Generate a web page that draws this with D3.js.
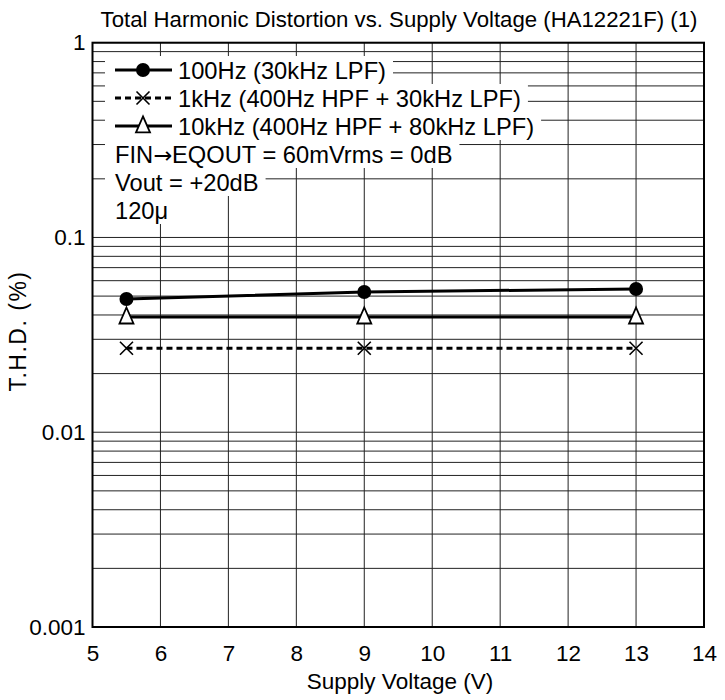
<!DOCTYPE html>
<html>
<head>
<meta charset="utf-8">
<script src="https://cdn.jsdelivr.net/npm/d3@7"></script>
<style>
  body { margin: 0; background: #fff; }
  svg text { font-family: "Liberation Sans", Arial, sans-serif; fill: #000; }
</style>
</head>
<body>
<svg id="chart" width="725" height="700"></svg>
<script>
// ---- data ----
const voltages = [5.5, 9, 13];
const thd100Hz = [0.0483, 0.0525, 0.0544];
const thd1kHz = [0.027, 0.027, 0.027];
const thd10kHz = [0.039, 0.039, 0.039];
const seriesNames = ["100Hz (30kHz LPF)", "1kHz (400Hz HPF + 30kHz LPF)", "10kHz (400Hz HPF + 80kHz LPF)"];
const noteLines = [["FIN", "\u2192", "EQOUT = 60mVrms = 0dB"], ["Vout = +20dB"], ["120\u03bc"]];
const xTicks = [5, 6, 7, 8, 9, 10, 11, 12, 13, 14];
const yTicks = [0.001, 0.01, 0.1, 1];
const yTickLabels = ["0.001", "0.01", "0.1", "1"];
const titleText = "Total Harmonic Distortion vs. Supply Voltage (HA12221F) (1)";
const xTitle = "Supply Voltage  (V)";
const yTitle = "T.H.D.   (%)";

// ---- layout ----
const L = 92.5, R = 704, T = 42.7, B = 627;
const svg = d3.select("#chart");
const x = d3.scaleLinear().domain([5, 14]).range([L, R]);
const y = d3.scaleLog().domain([0.001, 1]).range([B, T]);

// grid
const minor = [];
[0.001, 0.01, 0.1].forEach(d => { for (let k = 1; k <= 9; k++) minor.push(d * k); });
minor.push(1);
svg.append("g").selectAll("line").data(minor).join("line")
  .attr("x1", L).attr("x2", R)
  .attr("y1", d => y(d)).attr("y2", d => y(d))
  .attr("stroke", "#222").attr("stroke-width", 1);
svg.append("g").selectAll("line").data(xTicks).join("line")
  .attr("x1", d => x(d)).attr("x2", d => x(d))
  .attr("y1", T).attr("y2", B)
  .attr("stroke", "#222").attr("stroke-width", 1);

// data series
const series = [
  { name: seriesNames[0], vals: thd100Hz, dash: null, marker: "circle" },
  { name: seriesNames[1], vals: thd1kHz, dash: "6,4", marker: "x" },
  { name: seriesNames[2], vals: thd10kHz, dash: null, marker: "tri" }
];

function drawMarker(g, type, cx, cy) {
  if (type === "circle") {
    g.append("circle").attr("cx", cx).attr("cy", cy).attr("r", 7).attr("fill", "#000");
  } else if (type === "x") {
    const s = 6.5;
    g.append("path").attr("d", `M${cx - s},${cy - s}L${cx + s},${cy + s}M${cx - s},${cy + s}L${cx + s},${cy - s}`)
      .attr("stroke", "#000").attr("stroke-width", 1.6).attr("fill", "none");
  } else {
    const h = 16, w = 14;
    g.append("path").attr("d", `M${cx},${cy - h * 0.6}L${cx + w / 2},${cy + h * 0.4}L${cx - w / 2},${cy + h * 0.4}Z`)
      .attr("stroke", "#000").attr("stroke-width", 1.8).attr("fill", "#fff");
  }
}

const line = d3.line().x(d => x(d[0])).y(d => y(d[1]));
const dataG = svg.append("g");
series.forEach(s => {
  const pts = voltages.map((v, i) => [v, s.vals[i]]);
  dataG.append("path").attr("d", line(pts)).attr("fill", "none")
    .attr("stroke", "#000").attr("stroke-width", 3)
    .attr("stroke-dasharray", s.dash);
});
series.forEach(s => {
  voltages.forEach((v, i) => drawMarker(dataG, s.marker, x(v), y(s.vals[i])));
});

// legend
const rowH = 28, row0 = 70, boxX = 105, textX = 178, fs = 23.7;
const legG = svg.append("g");
const rows = seriesNames.map(d => [d]).concat(noteLines);
rows.forEach((parts, i) => {
  const cy = row0 + i * rowH;
  const isNote = i >= seriesNames.length;
  const tx = isNote ? 115 : textX;
  const rect = legG.append("rect").attr("fill", "#fff");
  const t = legG.append("text").attr("x", tx).attr("y", cy).attr("dy", "0.36em")
    .attr("font-size", fs);
  parts.forEach(p => {
    const sp = t.append("tspan").text(p);
    if (p === "\u2192") sp.attr("font-family", "DejaVu Sans").attr("font-size", fs * 0.95);
  });
  const w = t.node().getComputedTextLength();
  rect.attr("x", boxX).attr("y", cy - rowH / 2).attr("width", tx + w + 7 - boxX).attr("height", rowH);
  if (!isNote) {
    const s = series[i];
    legG.append("line").attr("x1", 115).attr("x2", 172).attr("y1", cy).attr("y2", cy)
      .attr("stroke", "#000").attr("stroke-width", 3).attr("stroke-dasharray", s.dash);
    drawMarker(legG, s.marker, 143, cy);
  }
});
legG.raise();

// frame
svg.append("rect").attr("x", L).attr("y", T).attr("width", R - L).attr("height", B - T)
  .attr("fill", "none").attr("stroke", "#000").attr("stroke-width", 2);

// axes
const xAxis = d3.axisBottom(x).tickValues(xTicks).tickSize(0).tickPadding(18).tickFormat(d3.format("d"));
const xg = svg.append("g").attr("transform", `translate(0,${B})`).call(xAxis);
xg.select(".domain").remove();
xg.selectAll("text").attr("font-size", 22.5).attr("font-family", "Liberation Sans, Arial, sans-serif");

const yAxis = d3.axisLeft(y).tickValues(yTicks).tickSize(0).tickPadding(7)
  .tickFormat((d, i) => yTickLabels[i]);
const yg = svg.append("g").attr("transform", `translate(${L},0)`).call(yAxis);
yg.select(".domain").remove();
yg.selectAll("text").attr("font-size", 22.5).attr("font-family", "Liberation Sans, Arial, sans-serif");

// titles
svg.append("text").attr("x", 399).attr("y", 27).attr("text-anchor", "middle")
  .attr("font-size", 22.2).text(titleText);
svg.append("text").attr("x", 400).attr("y", 689).attr("text-anchor", "middle")
  .attr("font-size", 22.5).text(xTitle);
svg.append("text").attr("transform", "translate(26,331) rotate(-90)").attr("text-anchor", "middle")
  .attr("font-size", 23).attr("letter-spacing", 1.5).text(yTitle);
</script>
</body>
</html>
